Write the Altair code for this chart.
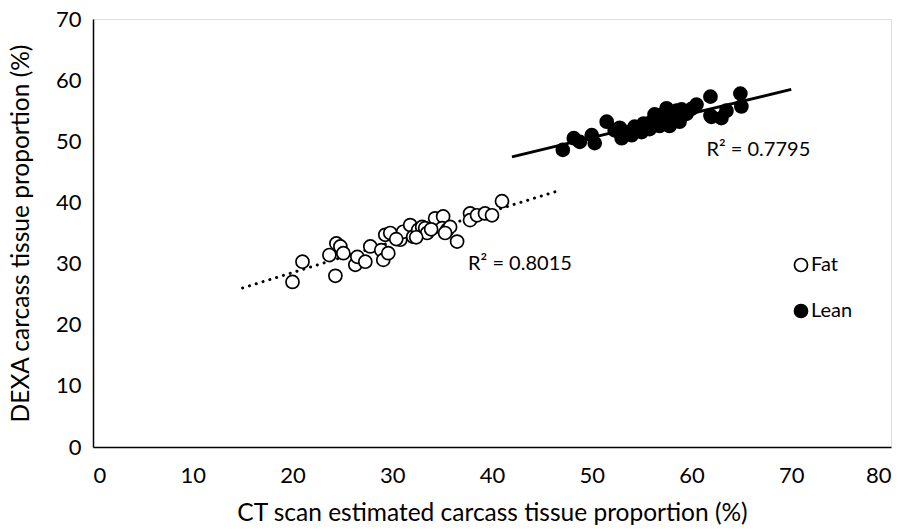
import altair as alt
import pandas as pd

fat_x = [20.0, 21.0, 23.7, 24.4, 24.3, 24.8, 25.1, 26.3, 26.5, 27.3, 27.8, 28.9, 29.1,
         29.3, 29.8, 29.6, 30.8, 31.1, 31.8, 32.1, 32.6, 33.0, 33.3, 33.5, 34.3, 35.1,
         35.0, 35.5, 35.8, 36.5, 37.8, 37.8, 38.5, 39.3, 40.0, 41.0, 30.4, 32.4, 33.9, 35.3]
fat_y = [27.0, 30.3, 31.4, 33.3, 28.0, 32.8, 31.7, 29.8, 31.1, 30.3, 32.8, 32.2, 30.6,
         34.7, 35.0, 31.7, 33.9, 35.2, 36.3, 34.4, 35.5, 36.0, 35.8, 35.0, 37.4, 37.7,
         35.8, 35.5, 36.0, 33.6, 38.2, 37.1, 37.9, 38.2, 37.9, 40.2, 34.0, 34.3, 35.6, 35.0]

lean_x = [47.1, 48.2, 48.8, 50.0, 50.3, 51.5, 52.3, 53.0, 54.3, 54.0, 55.2, 56.3, 57.5,
          57.8, 59.0, 60.5, 61.9, 61.9, 63.0, 63.5, 64.9, 65.0, 53.5, 55.0, 56.0, 56.8,
          57.0, 58.2, 58.8, 59.5, 60.0, 55.8, 62.0, 58.5, 52.8]
lean_y = [48.6, 50.5, 49.9, 51.0, 49.7, 53.2, 51.8, 50.5, 52.4, 51.0, 52.9, 54.4, 55.4,
          52.5, 55.2, 56.0, 57.3, 54.2, 53.8, 55.0, 57.8, 55.7, 51.5, 51.5, 53.2, 52.5,
          54.3, 53.8, 53.2, 54.5, 55.3, 52.0, 54.0, 55.0, 52.2]

fat_extent = [15, 46.5]
lean_extent = [42, 70]

r2_labels = ["R² = 0.8015", "R² = 0.7795"]
r2_x = [37.6, 61.5]
r2_y = [30.0, 48.5]

FONT = "Lato"

df = pd.DataFrame({
    "x": fat_x + lean_x,
    "y": fat_y + lean_y,
    "group": ["Fat"] * len(fat_x) + ["Lean"] * len(lean_x),
})
lab = pd.DataFrame({"x": r2_x, "y": r2_y, "t": r2_labels})

xs = alt.Scale(domain=[0, 80], nice=False, zero=True)
ys = alt.Scale(domain=[0, 70], nice=False, zero=True)

xax = alt.Axis(title="CT scan estimated carcass tissue proportion (%)", values=list(range(0, 81, 10)),
               grid=False, ticks=False, domainColor="black", domainWidth=1.5,
               labelFontSize=22, labelColor="black", labelPadding=18, labelFont=FONT,
               titleFontSize=24.5, titleFont=FONT, titleFontWeight="normal", titleColor="black",
               titlePadding=15)
yax = alt.Axis(title="DEXA carcass tissue proportion (%)", values=list(range(0, 71, 10)),
               grid=False, ticks=False, domainColor="black", domainWidth=1.5,
               labelFontSize=22, labelColor="black", labelPadding=12, labelFont=FONT,
               titleFontSize=24.5, titleFont=FONT, titleFontWeight="normal", titleColor="black",
               titlePadding=22)

base = alt.Chart(df)

fat_line = base.transform_filter(alt.datum.group == "Fat").transform_regression(
    "x", "y", extent=fat_extent
).mark_line(color="black", strokeWidth=3, strokeDash=[0.1, 7], strokeCap="round").encode(
    x=alt.X("x:Q", scale=xs, axis=xax), y=alt.Y("y:Q", scale=ys, axis=yax)
)
lean_line = base.transform_filter(alt.datum.group == "Lean").transform_regression(
    "x", "y", extent=lean_extent
).mark_line(color="black", strokeWidth=3).encode(
    x=alt.X("x:Q", scale=xs), y=alt.Y("y:Q", scale=ys)
)

pts = base.mark_point(shape="circle", size=170, strokeWidth=1.7, stroke="black", opacity=1).encode(
    x=alt.X("x:Q", scale=xs),
    y=alt.Y("y:Q", scale=ys),
    fill=alt.Fill("group:N", scale=alt.Scale(domain=["Fat", "Lean"], range=["white", "black"]),
                  legend=alt.Legend(title=None, orient="none", legendX=698, legendY=236,
                                    symbolType="circle", symbolSize=170, symbolStrokeColor="black",
                                    symbolStrokeWidth=1.7, labelFontSize=20, labelFont=FONT,
                                    labelColor="black", rowPadding=26, labelOffset=0)),
)

txt = alt.Chart(lab).mark_text(align="left", baseline="middle", fontSize=20, font=FONT, color="black").encode(
    x=alt.X("x:Q", scale=xs), y=alt.Y("y:Q", scale=ys), text="t:N"
)

chart = alt.layer(fat_line, lean_line, pts, txt).properties(
    width=798, height=428,
    autosize=alt.AutoSizeParams(type="none"),
    padding={"left": 93, "top": 19, "right": 13, "bottom": 84},
).configure_view(stroke=None).configure(background="white")

chart.save("out.html", embed_options={"renderer": "svg", "actions": False})
